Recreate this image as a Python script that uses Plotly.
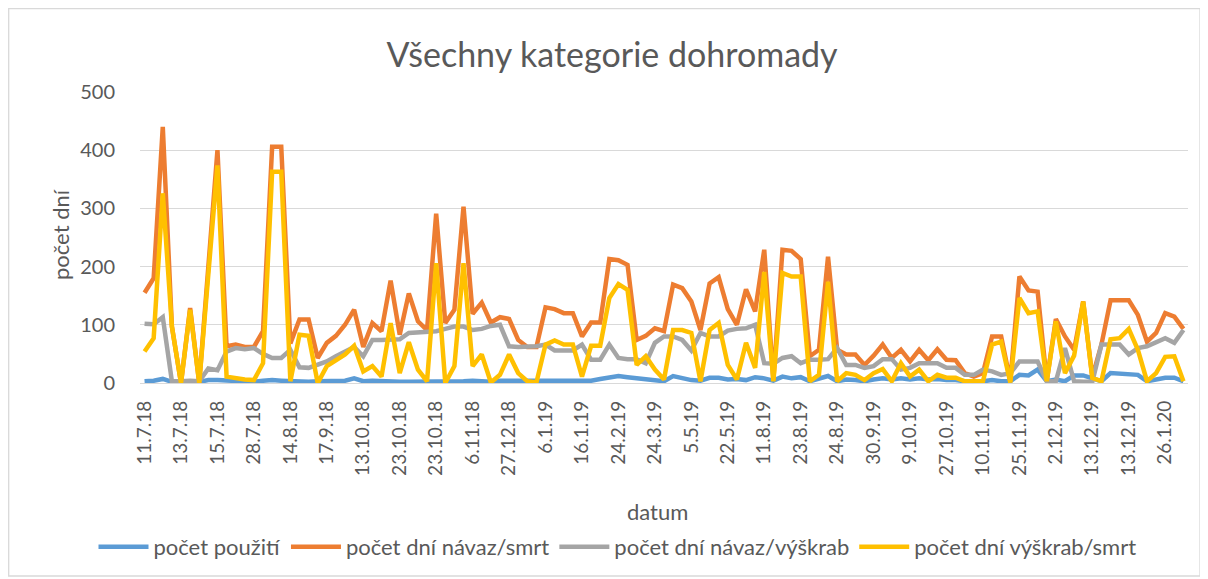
import plotly.graph_objects as go

tick_labels = ["11.7.18", "13.7.18", "15.7.18", "28.7.18", "14.8.18", "17.9.18", "13.10.18",
               "23.10.18", "23.10.18", "6.11.18", "27.12.18", "6.1.19", "16.1.19", "24.2.19",
               "24.3.19", "5.5.19", "22.5.19", "11.8.19", "23.8.19", "24.8.19", "30.9.19",
               "9.10.19", "27.10.19", "10.11.19", "25.11.19", "2.12.19", "13.12.19", "13.12.19",
               "26.1.20"]

pocet_pouziti = [3, 4, 7, 2, 2, 3, 2, 5, 5, 4, 3, 3, 2, 4, 5, 4, 3, 2, 2, 3,
                 3, 4, 4, 8, 3, 4, 3, 2, 2, 2, 2, 2, 2, 3, 3, 3, 4, 3, 2, 4,
                 4, 3, 3, 3, 3, 3, 3, 3, 3, 4, 7, 9, 12, 10, 8, 7, 5, 3, 12, 8,
                 5, 4, 9, 9, 6, 7, 5, 10, 8, 4, 11, 8, 10, 3, 7, 12, 3, 6, 5, 3,
                 6, 8, 6, 8, 6, 8, 6, 7, 5, 5, 3, 3, 3, 5, 3, 3, 14, 13, 23, 3,
                 6, 3, 13, 13, 9, 3, 17, 16, 15, 14, 3, 7, 9, 9, 3]

navaz_smrt = [155, 180, 440, 97, 0, 129, 0, 200, 400, 63, 66, 62, 62, 89, 406, 406, 68, 109, 109, 43,
              69, 81, 100, 126, 62, 103, 89, 176, 83, 154, 106, 91, 291, 103, 126, 303, 119, 138, 104, 113,
              110, 74, 62, 62, 130, 127, 120, 120, 80, 104, 104, 213, 211, 203, 74, 81, 94, 89, 169, 163,
              140, 91, 171, 182, 127, 100, 161, 123, 229, 5, 229, 227, 213, 46, 57, 217, 57, 49, 49, 31,
              47, 66, 43, 57, 37, 57, 39, 58, 40, 39, 17, 11, 17, 80, 80, 3, 183, 159, 157, 3,
              110, 80, 57, 140, 10, 66, 142, 142, 142, 117, 71, 86, 120, 114, 93]

navaz_vyskrab = [102, 101, 113, 3, 3, 4, 3, 25, 22, 54, 60, 58, 60, 50, 43, 43, 57, 27, 26, 31,
                 37, 46, 54, 62, 46, 74, 74, 74, 75, 86, 87, 87, 89, 93, 97, 97, 91, 93, 98, 100,
                 63, 62, 62, 63, 66, 56, 56, 56, 66, 40, 40, 66, 43, 41, 41, 34, 69, 80, 80, 74,
                 56, 86, 80, 80, 90, 93, 94, 100, 34, 33, 43, 46, 34, 40, 40, 41, 60, 31, 31, 26,
                 29, 41, 41, 23, 26, 34, 34, 34, 26, 26, 14, 14, 23, 20, 14, 17, 37, 37, 37, 3,
                 3, 60, 3, 2, 2, 66, 66, 66, 49, 60, 63, 71, 77, 69, 91]

vyskrab_smrt = [54, 77, 326, 97, 0, 126, 0, 185, 374, 11, 8, 6, 5, 34, 363, 363, 3, 83, 81, 0,
                29, 39, 49, 64, 20, 29, 11, 103, 17, 70, 23, 3, 206, 0, 29, 206, 29, 49, 1, 14,
                49, 17, 3, 1, 66, 73, 66, 66, 11, 64, 64, 146, 170, 160, 31, 46, 23, 6, 91, 91,
                86, 3, 91, 103, 31, 6, 69, 26, 191, 3, 189, 183, 183, 3, 14, 174, 3, 17, 14, 5,
                17, 24, 3, 34, 11, 23, 3, 14, 9, 9, 3, 3, 3, 66, 71, 1, 146, 120, 123, 3,
                106, 17, 47, 140, 9, 3, 75, 77, 93, 57, 3, 17, 45, 46, 3]

series_names = ["počet použití", "počet dní návaz/smrt", "počet dní návaz/výškrab", "počet dní výškrab/smrt"]
series_colors = ["#5b9bd5", "#ed7d31", "#a5a5a5", "#ffc000"]
series_values = [pocet_pouziti, navaz_smrt, navaz_vyskrab, vyskrab_smrt]

n = len(navaz_smrt)
x = list(range(n))
tick_step = 4
tickvals = [i * tick_step for i in range(len(tick_labels))]

FONT = "Lato, 'Open Sans', sans-serif"
TXT = "#595959"

# page has an 8px body margin; figure is sized/offset to compensate
W, H = 1200, 571
L, R, T, B = 132, 20, 84, 196
PW, PH = W - L - R, H - T - B
PLOT_LEFT_PAGE, PLOT_BOTTOM_PAGE = 8 + L, 8 + T + PH


def px(page_x):
    return (page_x - PLOT_LEFT_PAGE) / PW


def py(page_y):
    return (PLOT_BOTTOM_PAGE - page_y) / PH


fig = go.Figure()
for name, color, vals in zip(series_names, series_colors, series_values):
    fig.add_trace(go.Scatter(x=x, y=vals, name=name, mode="lines",
                             line=dict(color=color, width=4.5, shape="linear")))

fig.update_layout(
    width=W, height=H,
    margin=dict(l=L, r=R, t=T, b=B, autoexpand=False),
    paper_bgcolor="white", plot_bgcolor="white",
    font=dict(family=FONT, color=TXT),
    title=dict(text="Všechny kategorie dohromady", x=(612 - 8) / W, xanchor="center",
               y=1 - (55 - 8) / H, yanchor="middle", font=dict(size=34, color=TXT, family=FONT)),
    showlegend=True,
    legend=dict(orientation="h", x=px(617.5), xanchor="center", y=py(547), yanchor="middle",
                font=dict(size=22, color=TXT, family=FONT), itemwidth=50,
                tracegroupgap=0, bgcolor="rgba(0,0,0,0)"),
    xaxis=dict(range=[-0.5, n - 0.5], tickmode="array", tickvals=tickvals, ticktext=tick_labels,
               tickangle=-90, tickfont=dict(size=19, color=TXT, family=FONT),
               showgrid=False, zeroline=False, showline=False, ticks="",
               ticklabelstandoff=13, fixedrange=True, automargin=False),
    yaxis=dict(range=[0, 500], tickvals=[0, 100, 200, 300, 400, 500],
               tickfont=dict(size=20, color=TXT, family=FONT),
               showgrid=True, gridcolor="#d9d9d9", gridwidth=1.3,
               zeroline=True, zerolinecolor="#d9d9d9", zerolinewidth=1.3,
               showline=False, ticks="", ticklabelstandoff=24, fixedrange=True, automargin=False),
    annotations=[
        dict(text="počet dní", xref="paper", yref="paper", x=px(60), y=py(235),
             textangle=-90, showarrow=False, font=dict(size=22, color=TXT, family=FONT),
             xanchor="center", yanchor="middle"),
        dict(text="datum", xref="paper", yref="paper", x=px(657), y=py(511),
             showarrow=False, font=dict(size=22, color=TXT, family=FONT),
             xanchor="center", yanchor="middle"),
    ],
    shapes=[
        dict(type="rect", xref="paper", yref="paper",
             x0=px(8.7), x1=px(1200), y0=py(576), y1=py(8.7),
             line=dict(color="#d9d9d9", width=1.3), fillcolor="rgba(0,0,0,0)", layer="below"),
    ],
)

fig.write_html("out.html")
